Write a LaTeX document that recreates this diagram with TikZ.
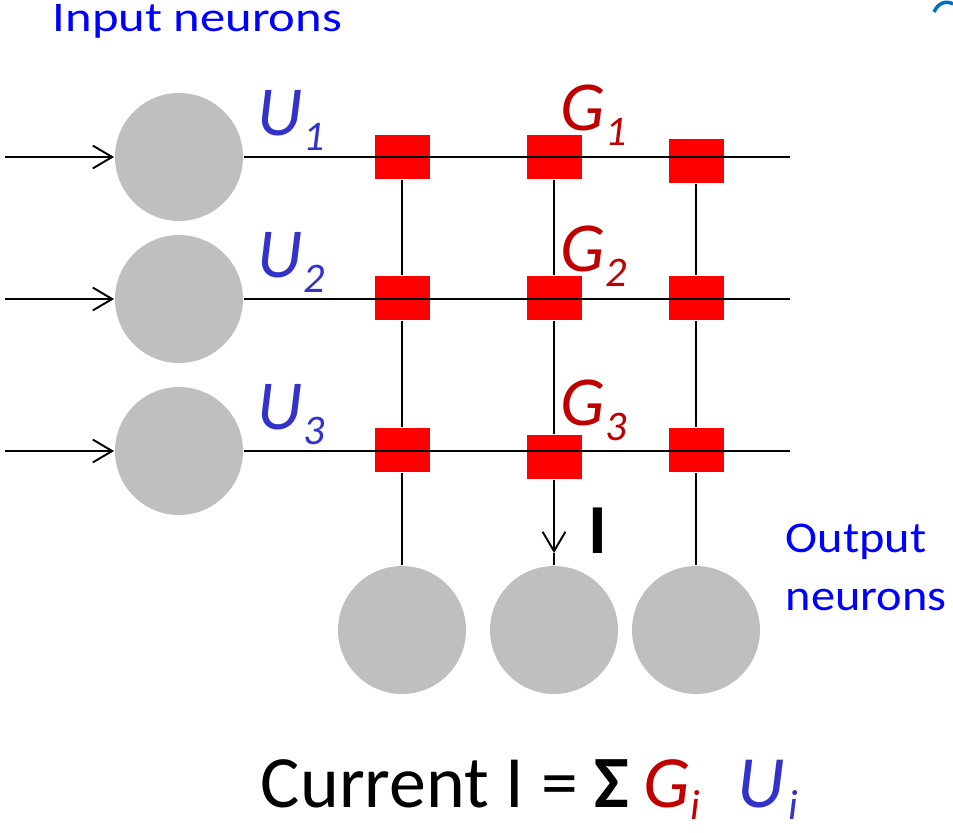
\documentclass[tikz,border=0pt]{standalone}
\usepackage{fontspec}
\setmainfont{Carlito}
\usetikzlibrary{positioning,arrows.meta}

\definecolor{neuronblue}{RGB}{0,0,255}
\definecolor{ublue}{RGB}{51,51,204}
\definecolor{gred}{RGB}{192,0,0}
\definecolor{cellgray}{RGB}{191,191,191}
\definecolor{arcblue}{RGB}{0,112,192}

% letter with a lowered index
\newcommand{\idx}[3][9pt]{{\itshape #2}\raisebox{-#1}{\fontsize{24}{24}\selectfont\itshape #3}}

\begin{document}
\begin{tikzpicture}[
            x=0.02cm, y=-0.02cm,
            neuron/.style={circle, fill=cellgray, minimum size=2.56cm, inner sep=0pt},
            cell/.style={fill=red, minimum width=1.1cm, minimum height=0.88cm, inner sep=0pt},
            lbl/.style={inner sep=0pt, anchor=base west},
            big/.style={font=\fontsize{40}{48}\selectfont},
            >={Straight Barb[length=11pt,width=13pt]},
            line width=1.1pt
        ]
            \useasboundingbox (0,0) rectangle (953,832);

            % input neurons
            \node[neuron] (in1) at (179,157) {};
            \node[neuron] (in2) at (179,299) {};
            \node[neuron] (in3) at (179,451) {};
            \coordinate (a1) at (5,157);
            \coordinate (a2) at (5,299);
            \coordinate (a3) at (5,451);
            \draw[->] (a1) -- (in1);
            \draw[->] (a2) -- (in2);
            \draw[->] (a3) -- (in3);

            % output neurons
            \node[neuron] (o1) at (402,630) {};
            \node[neuron] (o2) at (554,630) {};
            \node[neuron] (o3) at (696,630) {};

            % conductances
            \node[cell] (s11) at (402,157) {};
            \node[cell] (s12) at (554,157) {};
            \node[cell] (s13) at (696,161) {};
            \node[cell] (s21) at (402,298) {};
            \node[cell] (s22) at (554,298) {};
            \node[cell] (s23) at (696,298) {};
            \node[cell] (s31) at (402,450) {};
            \node[cell] (s32) at (554,457) {};
            \node[cell] (s33) at (696,450) {};

            % columns
            \draw (s11) -- (s21);
            \draw (s21) -- (s31);
            \draw (s31) -- (o1);
            \draw (s12) -- (s22);
            \draw (s22) -- (s32);
            \coordinate (tip) at (554,553);
            \draw[->] (s32) -- (tip);
            \draw (tip) -- (o2);
            \draw (s13.south -| o3) -- (s23);
            \draw (s23) -- (s33);
            \draw (s33) -- (o3);

            % rows
            \coordinate (r1) at (790,157);
            \coordinate (r2) at (790,299);
            \coordinate (r3) at (790,451);
            \draw (in1) -- (r1);
            \draw (in2) -- (r2);
            \draw (in3) -- (r3);

            % labels
            \node[lbl, text=neuronblue, font=\fontsize{24}{30}\selectfont] (tin) at (52,31) {\scalebox{1.2}[1]{Input neurons}};
            \node[lbl, text=neuronblue, font=\fontsize{25}{33}\selectfont, align=left, anchor=north west] (tout) at (785,523)
                {\scalebox{1.1}[1]{Output}\\\scalebox{1.1}[1]{neurons}};
            \node[lbl, big, text=ublue] (u1) at (257,135) {\idx{U}{1}};
            \node[lbl, big, text=ublue] (u2) at (257,277) {\idx{U}{2}};
            \node[lbl, big, text=ublue] (u3) at (257,429) {\idx{U}{3}};
            \node[lbl, big, text=gred] (g1) at (560,130) {\idx{G}{1}};
            \node[lbl, big, text=gred] (g2) at (560,271) {\idx{G}{2}};
            \node[lbl, big, text=gred] (g3) at (560,425) {\idx{G}{3}};
            \node[lbl, big] (cur) at (588,553) {\bfseries I};
            \node[lbl, font=\fontsize{42}{50}\selectfont] (law) at (260,807)
                {Current I = \textbf{Σ}\hspace{0.2em}{\color{gred}\idx[7pt]{G}{i}}\hspace{0.5em}{\color{ublue}\idx[7pt]{U}{\hspace{0.1em}i}}};

            % stray mark in the corner
            \draw[arcblue, line width=2pt] (934,12) .. controls (938,3) and (946,0) .. (953,4);
        \end{tikzpicture}
\end{document}
